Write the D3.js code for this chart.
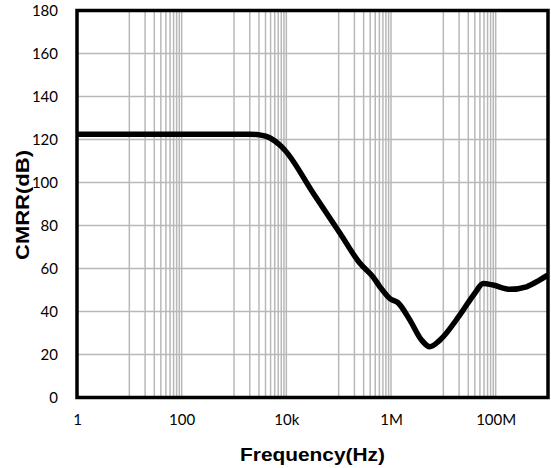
<!DOCTYPE html>
<html><head><meta charset="utf-8">
<script src="https://cdn.jsdelivr.net/npm/d3@7"></script>
<style>body{margin:0;background:#fff}svg{display:block}</style>
</head><body>
<svg id="c" width="551" height="468"></svg>
<script>
// data
const freq = [1, 10, 100, 1000, 2000, 2700, 4900, 7500, 9400, 32700, 106000, 255000, 457000, 614000, 953000, 1370000, 2300000, 3840000, 5500000, 8600000, 20700000, 40000000, 57700000, 89600000, 187000000, 389000000, 700000000, 1000000000];
const cmrr = [122.5, 122.5, 122.5, 122.5, 122.5, 122.3, 120.7, 117.4, 115, 95, 76.4, 62.4, 56, 51.5, 46, 44, 36, 26.7, 23.6, 26.7, 38.4, 48.5, 53, 52.3, 50.3, 51.5, 54.7, 57];
const xTickValues = [1, 100, 1e4, 1e6, 1e8];
const xTickLabels = ["1", "100", "10k", "1M", "100M"];
const yTickValues = [0, 20, 40, 60, 80, 100, 120, 140, 160, 180];
const xTitle = "Frequency(Hz)";
const yTitle = "CMRR(dB)";

const L = 77, R = 548, T = 10.5, B = 397.5;
const svg = d3.select("#c");
const x = d3.scaleLog().domain([1, 1e9]).range([L, R]);
const y = d3.scaleLinear().domain([0, 180]).range([B, T]);

// minor/major vertical gridlines: major every 100x, minor at 10*k*major
const vLines = [];
for (let e = 0; e < 9; e += 2) {
  const base = Math.pow(10, e);
  if (e > 0) vLines.push(base);
  for (let k = 1; k <= 9; k++) {
    const v = base * 10 * k;
    if (v < 1e9) vLines.push(v);
  }
}
const grid = svg.append("g").attr("stroke", "#b8b8b8").attr("stroke-width", 1.5);
grid.selectAll("line.v").data(vLines).join("line").attr("class", "v")
  .attr("x1", d => x(d)).attr("x2", d => x(d)).attr("y1", T).attr("y2", B);
grid.selectAll("line.h").data(yTickValues.filter(v => v > 0 && v < 180)).join("line").attr("class", "h")
  .attr("x1", L).attr("x2", R).attr("y1", d => y(d)).attr("y2", d => y(d));

// line
svg.append("clipPath").attr("id", "clip").append("rect").attr("x", L).attr("y", T).attr("width", R - L).attr("height", B - T);
const line = d3.line().x((d, i) => x(freq[i])).y(d => y(d)).curve(d3.curveMonotoneX);
svg.append("path").datum(cmrr).attr("d", line).attr("fill", "none").attr("stroke", "#000")
  .attr("stroke-width", 5.5).attr("stroke-linejoin", "round").attr("clip-path", "url(#clip)");

// frame
svg.append("rect").attr("x", L).attr("y", T).attr("width", R - L).attr("height", B - T)
  .attr("fill", "none").attr("stroke", "#000").attr("stroke-width", 3.5);

// axes
const xAxis = svg.append("g").attr("transform", `translate(0,${B + 14})`)
  .call(d3.axisBottom(x).tickValues(xTickValues).tickFormat((d, i) => xTickLabels[i]).tickSize(0));
xAxis.select(".domain").remove();
xAxis.selectAll("text").attr("font-family", "Lato, 'Open Sans', sans-serif").attr("font-size", 15).attr("fill", "#000");

const yAxis = svg.append("g").attr("transform", `translate(${L - 16},0)`)
  .call(d3.axisLeft(y).tickValues(yTickValues).tickSize(0));
yAxis.select(".domain").remove();
yAxis.selectAll("text").attr("font-family", "Lato, 'Open Sans', sans-serif").attr("font-size", 15).attr("fill", "#000");

// titles
svg.append("text").attr("x", 312.5).attr("y", 461).attr("text-anchor", "middle")
  .attr("font-family", "'Liberation Sans', Arial, sans-serif").attr("font-weight", "bold").attr("font-size", 18.5)
  .attr("textLength", 145).attr("lengthAdjust", "spacingAndGlyphs").text(xTitle);
svg.append("text").attr("transform", "translate(29,205) rotate(-90)").attr("text-anchor", "middle")
  .attr("font-family", "'Liberation Sans', Arial, sans-serif").attr("font-weight", "bold").attr("font-size", 18.5)
  .attr("textLength", 110).attr("lengthAdjust", "spacingAndGlyphs").text(yTitle);
</script>
</body></html>
